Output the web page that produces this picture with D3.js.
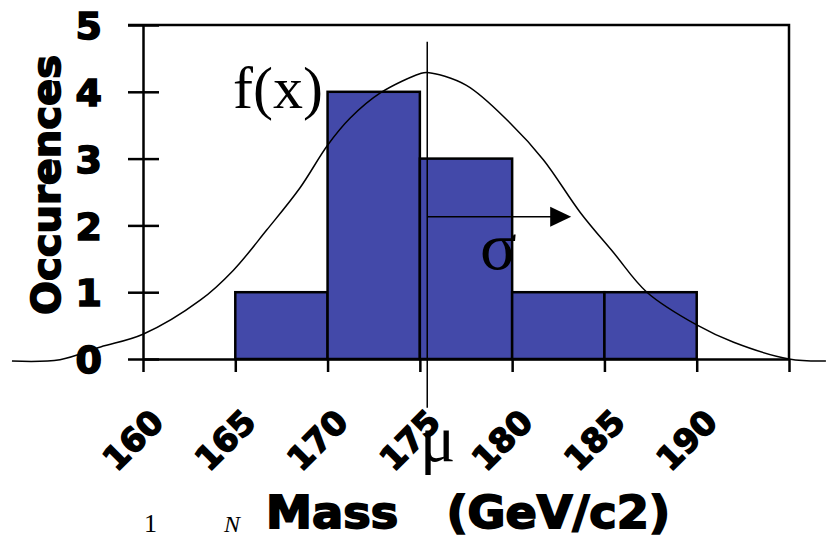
<!DOCTYPE html>
<html>
<head>
<meta charset="utf-8">
<script src="https://cdn.jsdelivr.net/npm/d3@7"></script>
<style>
  html, body { margin: 0; padding: 0; background: #fff; }
  svg { display: block; }
</style>
</head>
<body>
<div class="chart"></div>
<script>
// histogram bins
const binStart = [165, 170, 175, 180, 185];
const binEnd = [170, 175, 180, 185, 190];
const occurences = [1, 4, 3, 1, 1];

const massTicks = [160, 165, 170, 175, 180, 185, 190, 195];
const massLabels = ['160', '165', '170', '175', '180', '185', '190', ''];
const countTicks = [0, 1, 2, 3, 4, 5];

// f(x), points
const curveMass = [152.9, 155.5, 157.7, 160, 163.1, 164.9, 166.7, 168.5, 170, 171.2, 172.9, 175, 175.4,
                   177.5, 179.9, 181.7, 183.7, 185.5, 187.3, 190, 192, 195, 197];
const curveValue = [-0.03, -0.01, 0.18, 0.37, 0.88, 1.33, 1.93, 2.56, 3.2, 3.6, 3.99, 4.27, 4.29,
                    4.1, 3.53, 2.98, 2.19, 1.59, 1.0, 0.51, 0.25, 0, -0.03];

const mu = 175.4;
const sigmaTip = 183.2;
const sigmaLevel = 2.13;

const w = 826;
const h = 539;
const margin = { top: 25, right: 37, bottom: 180, left: 143 };

const heavy = "'DejaVu Sans', 'Liberation Sans', sans-serif";
const serif = "'Liberation Serif', 'Times New Roman', serif";

const xScale = d3.scaleLinear()
                 .domain([160, 195])
                 .range([margin.left, w - margin.right]);

const yScale = d3.scaleLinear()
                 .domain([0, 5])
                 .range([h - margin.bottom, margin.top]);

const svg = d3.select('.chart')
              .append('svg')
              .attr('width', w)
              .attr('height', h);

const bins = binStart.map((s, i) => ({ start: s, end: binEnd[i], count: occurences[i] }));

svg.selectAll('rect.bar')
   .data(bins)
   .enter()
   .append('rect')
   .attr('class', 'bar')
   .attr('x', d => xScale(d.start))
   .attr('y', d => yScale(d.count))
   .attr('width', d => xScale(d.end) - xScale(d.start))
   .attr('height', d => yScale(0) - yScale(d.count))
   .attr('fill', '#4349a9')
   .attr('stroke', '#000')
   .attr('stroke-width', 2.5);

// y axis, ticks cross the line
const yAxis = svg.append('g')
   .attr('transform', `translate(${xScale(160)}, 0)`)
   .call(d3.axisLeft(yScale).tickValues(countTicks).tickSize(15).tickSizeOuter(0).tickFormat(d3.format('d')));

yAxis.select('.domain').attr('stroke-width', 2.5);
yAxis.selectAll('.tick line')
     .attr('x1', 16)
     .attr('x2', -15)
     .attr('stroke-width', 2.5);
yAxis.selectAll('.tick text')
     .attr('x', -41)
     .attr('dy', '0.36em')
     .attr('font-family', heavy)
     .attr('font-weight', 'bold')
     .attr('font-size', 38)
     .attr('stroke', '#000')
     .attr('stroke-width', 1.6);

const xAxis = svg.append('g')
   .attr('transform', `translate(0, ${yScale(0)})`)
   .call(d3.axisBottom(xScale).tickValues(massTicks).tickSize(13).tickSizeOuter(0)
           .tickFormat((d, i) => massLabels[i]));

xAxis.select('.domain').attr('stroke-width', 2.5);
xAxis.selectAll('.tick line').attr('stroke-width', 2.5);
xAxis.selectAll('.tick text')
     .attr('x', 0)
     .attr('y', 0)
     .attr('dy', 0)
     .attr('text-anchor', 'end')
     .attr('transform', 'translate(22, 65) rotate(-45)')
     .attr('font-family', heavy)
     .attr('font-weight', 'bold')
     .attr('font-size', 33)
     .attr('stroke', '#000')
     .attr('stroke-width', 1.5);

// rest of the frame
svg.append('path')
   .attr('d', `M${xScale(160) - 15},${yScale(5)}H${xScale(195)}V${yScale(0)}`)
   .attr('fill', 'none')
   .attr('stroke', '#000')
   .attr('stroke-width', 2.5);

const line = d3.line()
               .x((d, i) => xScale(d))
               .y((d, i) => yScale(curveValue[i]))
               .curve(d3.curveCatmullRom.alpha(0.5));

svg.append('path')
   .attr('d', line(curveMass))
   .attr('fill', 'none')
   .attr('stroke', '#000')
   .attr('stroke-width', 1.5);

// mean line
svg.append('line')
   .attr('x1', xScale(mu))
   .attr('x2', xScale(mu))
   .attr('y1', yScale(4.75))
   .attr('y2', yScale(-0.73))
   .attr('stroke', '#000')
   .attr('stroke-width', 1.5);

// sigma arrow
const tipX = xScale(sigmaTip);
const tipY = yScale(sigmaLevel);
svg.append('line')
   .attr('x1', xScale(mu))
   .attr('x2', tipX - 18)
   .attr('y1', tipY)
   .attr('y2', tipY)
   .attr('stroke', '#000')
   .attr('stroke-width', 1.5);

svg.append('path')
   .attr('d', `M${tipX},${tipY}L${tipX - 21},${tipY - 10}L${tipX - 21},${tipY + 10}Z`)
   .attr('fill', '#000');

svg.append('text')
   .attr('x', 233)
   .attr('y', 108)
   .attr('font-family', serif)
   .attr('font-size', 60)
   .text('f(x)');

svg.append('text')
   .attr('x', 480)
   .attr('y', 269)
   .attr('font-family', serif)
   .attr('font-size', 68)
   .text('σ');

svg.append('text')
   .attr('x', 420)
   .attr('y', 461)
   .attr('font-family', serif)
   .attr('font-size', 66)
   .text('μ');

svg.append('text')
   .attr('transform', 'translate(60, 185) rotate(-90)')
   .attr('text-anchor', 'middle')
   .attr('font-family', heavy)
   .attr('font-weight', 'bold')
   .attr('font-size', 39)
   .attr('textLength', 260)
   .attr('lengthAdjust', 'spacingAndGlyphs')
   .attr('stroke', '#000')
   .attr('stroke-width', 1.6)
   .text('Occurences');

svg.append('text')
   .attr('x', 266)
   .attr('y', 528)
   .attr('font-family', heavy)
   .attr('font-weight', 'bold')
   .attr('font-size', 44)
   .attr('textLength', 404)
   .attr('lengthAdjust', 'spacingAndGlyphs')
   .attr('stroke', '#000')
   .attr('stroke-width', 1.8)
   .style('white-space', 'pre')
   .text('Mass   (GeV/c2)');

// bits of the formula at the bottom edge
svg.append('text')
   .attr('x', 144)
   .attr('y', 532)
   .attr('font-family', serif)
   .attr('font-size', 26)
   .text('1');

svg.append('text')
   .attr('x', 224)
   .attr('y', 532)
   .attr('font-family', serif)
   .attr('font-style', 'italic')
   .attr('font-size', 24)
   .text('N');
</script>
</body>
</html>
